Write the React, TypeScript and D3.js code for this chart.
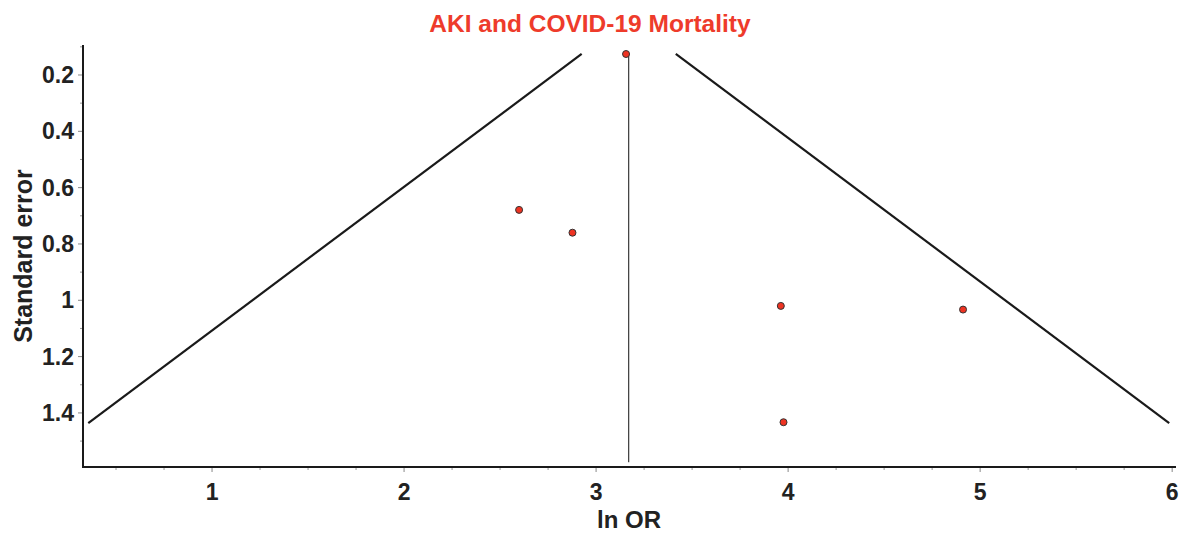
import React from "react";
import * as d3 from "d3";

// Study estimates: log odds ratio and its standard error
const studyLnOR = [3.156, 2.599, 2.877, 3.962, 4.911, 3.976];
const studySE = [0.1255, 0.679, 0.76, 1.02, 1.033, 1.433];

// Pooled estimate and the SE span of the 95% pseudo-confidence funnel
const pooledLnOR = 3.17;
const funnelSE = [0.125, 1.436];
const centerLineSE = [0.125, 1.575];

const xTicks = [1, 2, 3, 4, 5, 6];
const yTicks = [0.2, 0.4, 0.6, 0.8, 1, 1.2, 1.4];

const W = 1187;
const H = 534;
const left = 83;
const right = 1176;
const top = 45;
const bottom = 467;

const FONT = "'Liberation Sans', Arial, Helvetica, sans-serif";

export default function App() {
  const x = d3.scaleLinear().domain([0.328, 6.02]).range([left, right]);
  const y = d3.scaleLinear().domain([0.0935, 1.592]).range([top, bottom]);

  const xMinor = d3.range(0.5, 6.01, 0.25).filter((v) => Math.abs(v - Math.round(v)) > 1e-6);
  const yMinor = d3.range(0.1, 1.56, 0.1).filter((v) => !yTicks.some((t) => Math.abs(t - v) < 1e-6));

  const line = d3
    .line<[number, number]>()
    .x((d) => x(d[0]))
    .y((d) => y(d[1]));

  const leftFunnel: [number, number][] = funnelSE.map((s) => [pooledLnOR - 1.96 * s, s]);
  const rightFunnel: [number, number][] = funnelSE.map((s) => [pooledLnOR + 1.96 * s, s]);
  const center: [number, number][] = centerLineSE.map((s) => [pooledLnOR, s]);

  return (
    <svg
      width={W}
      height={H}
      style={{ position: "absolute", left: 0, top: 0, background: "#fff" }}
      fontFamily={FONT}
    >
      <text x={590} y={32} textAnchor="middle" fontSize={24.5} fontWeight="bold" fill="#ee3b2b">
        AKI and COVID-19 Mortality
      </text>

      {/* minor ticks */}
      {xMinor.map((v) => (
        <line key={"xm" + v} x1={x(v)} x2={x(v)} y1={bottom} y2={bottom + 3} stroke="#999" strokeWidth={1} />
      ))}
      {yMinor.map((v) => (
        <line key={"ym" + v} x1={left - 3} x2={left} y1={y(v)} y2={y(v)} stroke="#999" strokeWidth={1} />
      ))}
      {/* major ticks */}
      {xTicks.map((v) => (
        <g key={"x" + v}>
          <line x1={x(v)} x2={x(v)} y1={bottom} y2={bottom + 5} stroke="#888" strokeWidth={1} />
          <text x={x(v)} y={500} textAnchor="middle" fontSize={23} fontWeight="bold" fill="#222">
            {v}
          </text>
        </g>
      ))}
      {yTicks.map((v) => (
        <g key={"y" + v}>
          <line x1={left - 5} x2={left} y1={y(v)} y2={y(v)} stroke="#888" strokeWidth={1} />
          <text x={74} y={y(v) + 8} textAnchor="end" fontSize={23} fontWeight="bold" fill="#222">
            {String(v)}
          </text>
        </g>
      ))}

      {/* axes */}
      <line x1={left} x2={left} y1={top} y2={bottom + 1} stroke="#1a1a1a" strokeWidth={2} />
      <line x1={left - 1} x2={right} y1={bottom} y2={bottom} stroke="#1a1a1a" strokeWidth={2} />

      <text x={629} y={528} textAnchor="middle" fontSize={24} fontWeight="bold" fill="#222">
        ln OR
      </text>
      <text
        transform={`translate(32, ${(top + bottom) / 2}) rotate(-90)`}
        textAnchor="middle"
        fontSize={25}
        fontWeight="bold"
        fill="#222"
      >
        Standard error
      </text>

      {/* funnel */}
      <path d={line(leftFunnel) || ""} fill="none" stroke="#1a1a1a" strokeWidth={2.2} />
      <path d={line(rightFunnel) || ""} fill="none" stroke="#1a1a1a" strokeWidth={2.2} />
      <path d={line(center) || ""} fill="none" stroke="#111" strokeWidth={1} />

      {/* studies */}
      {studyLnOR.map((v, i) => (
        <circle key={i} cx={x(v)} cy={y(studySE[i])} r={3.5} fill="#ee3322" stroke="#333" strokeWidth={1} />
      ))}
    </svg>
  );
}
